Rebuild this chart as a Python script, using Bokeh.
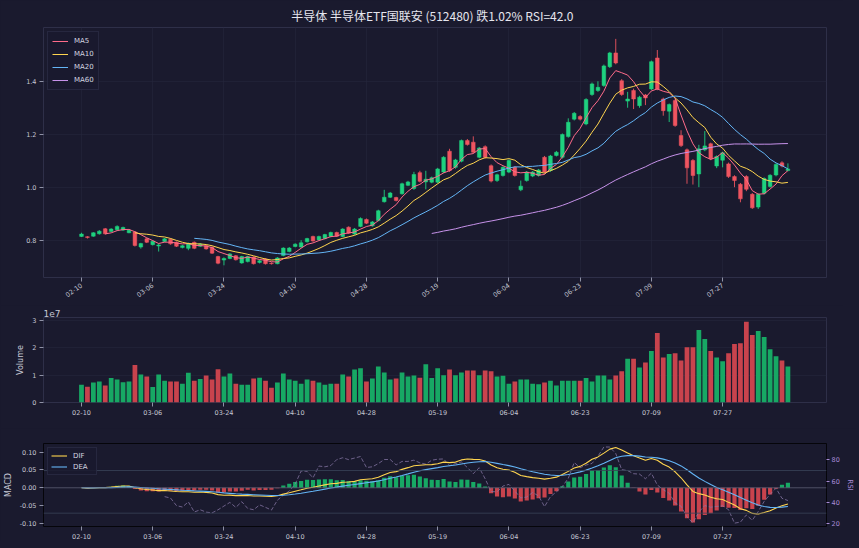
import numpy as np
import pandas as pd

from bokeh.embed import file_html
from bokeh.layouts import column
from bokeh.models import (ColumnDataSource, CustomJSTickFormatter, FixedTicker,
                          LinearAxis, Range1d, Span, Title)
from bokeh.plotting import figure
from bokeh.resources import INLINE

title_text = "半导体 半导体ETF国联安 (512480)  跌1.02%  RSI=42.0"

# x tick labels, one every 12 trading days
tick_labels = ["02-10", "03-06", "03-24", "04-10", "04-28",
               "05-19", "06-04", "06-23", "07-09", "07-27"]
tick_step = 12

# daily candles
opens = [0.814, 0.813, 0.815, 0.824, 0.843, 0.833, 0.839, 0.838, 0.828, 0.831,
         0.774, 0.805, 0.783, 0.778, 0.795, 0.803, 0.792, 0.772, 0.769, 0.792,
         0.777, 0.779, 0.773, 0.738, 0.725, 0.731, 0.741, 0.714, 0.719, 0.736,
         0.716, 0.729, 0.713, 0.711, 0.742, 0.757, 0.776, 0.774, 0.794, 0.814,
         0.801, 0.806, 0.814, 0.829, 0.814, 0.849, 0.823, 0.852, 0.878, 0.854,
         0.874, 0.945, 0.962, 0.961, 0.975, 1.007, 0.995, 1.055, 1.020, 1.019,
         1.019, 1.057, 1.136, 1.075, 1.098, 1.176, 1.170, 1.113, 1.153, 1.081,
         1.025, 1.044, 1.057, 1.075, 0.990, 1.025, 1.042, 1.044, 1.113, 1.063,
         1.120, 1.113, 1.191, 1.257, 1.267, 1.239, 1.350, 1.365, 1.384, 1.455,
         1.507, 1.402, 1.325, 1.365, 1.308, 1.348, 1.371, 1.488, 1.333, 1.287,
         1.327, 1.195, 1.141, 1.101, 1.050, 1.141, 1.164, 1.080, 1.102, 1.088,
         1.040, 1.011, 1.040, 0.973, 0.925, 0.977, 1.003, 1.046, 1.092, 1.063]
closes = [0.823, 0.810, 0.828, 0.834, 0.824, 0.842, 0.852, 0.848, 0.837, 0.780,
          0.787, 0.792, 0.796, 0.782, 0.805, 0.786, 0.777, 0.779, 0.788, 0.769,
          0.785, 0.767, 0.751, 0.713, 0.731, 0.748, 0.726, 0.738, 0.738, 0.711,
          0.722, 0.711, 0.711, 0.733, 0.770, 0.770, 0.785, 0.790, 0.806, 0.797,
          0.814, 0.821, 0.829, 0.815, 0.842, 0.827, 0.842, 0.882, 0.864, 0.869,
          0.911, 0.962, 0.978, 0.950, 1.013, 1.020, 1.048, 1.022, 1.030, 1.036,
          1.069, 1.113, 1.063, 1.103, 1.176, 1.161, 1.132, 1.148, 1.113, 1.023,
          1.047, 1.075, 1.101, 1.044, 1.004, 1.057, 1.057, 1.065, 1.057, 1.118,
          1.132, 1.199, 1.245, 1.279, 1.257, 1.331, 1.390, 1.377, 1.458, 1.507,
          1.469, 1.350, 1.333, 1.333, 1.340, 1.337, 1.474, 1.371, 1.289, 1.312,
          1.233, 1.157, 1.073, 1.044, 1.145, 1.156, 1.107, 1.116, 1.130, 1.040,
          1.025, 0.956, 0.992, 0.922, 0.973, 1.033, 1.045, 1.086, 1.080, 1.069]
highs = [0.828, 0.815, 0.830, 0.838, 0.846, 0.845, 0.856, 0.851, 0.840, 0.834,
         0.790, 0.808, 0.799, 0.786, 0.808, 0.806, 0.795, 0.782, 0.791, 0.795,
         0.789, 0.782, 0.776, 0.741, 0.735, 0.751, 0.744, 0.741, 0.741, 0.739,
         0.726, 0.732, 0.716, 0.736, 0.773, 0.774, 0.788, 0.800, 0.809, 0.817,
         0.817, 0.824, 0.832, 0.832, 0.845, 0.852, 0.846, 0.886, 0.882, 0.872,
         0.915, 0.990, 0.982, 0.964, 1.017, 1.024, 1.058, 1.062, 1.062, 1.040,
         1.073, 1.117, 1.145, 1.107, 1.180, 1.182, 1.192, 1.152, 1.158, 1.086,
         1.051, 1.079, 1.105, 1.079, 1.025, 1.061, 1.061, 1.069, 1.118, 1.122,
         1.137, 1.203, 1.260, 1.284, 1.272, 1.336, 1.395, 1.400, 1.463, 1.511,
         1.560, 1.408, 1.360, 1.372, 1.345, 1.352, 1.478, 1.518, 1.338, 1.316,
         1.332, 1.215, 1.146, 1.106, 1.160, 1.212, 1.168, 1.120, 1.134, 1.093,
         1.045, 1.016, 1.045, 0.978, 0.977, 1.037, 1.049, 1.090, 1.098, 1.090]
lows = [0.812, 0.806, 0.813, 0.821, 0.821, 0.830, 0.836, 0.835, 0.826, 0.776,
        0.768, 0.789, 0.780, 0.757, 0.792, 0.783, 0.774, 0.769, 0.762, 0.766,
        0.774, 0.764, 0.748, 0.709, 0.705, 0.728, 0.723, 0.711, 0.716, 0.708,
        0.712, 0.708, 0.708, 0.709, 0.739, 0.754, 0.773, 0.771, 0.791, 0.794,
        0.798, 0.803, 0.811, 0.812, 0.811, 0.824, 0.820, 0.849, 0.861, 0.851,
        0.871, 0.942, 0.959, 0.946, 0.972, 1.004, 0.990, 1.018, 0.992, 1.015,
        1.015, 1.053, 1.058, 1.070, 1.094, 1.157, 1.128, 1.109, 1.108, 1.018,
        1.020, 1.040, 1.053, 1.040, 0.985, 1.021, 1.038, 1.040, 1.052, 1.058,
        1.116, 1.108, 1.187, 1.252, 1.252, 1.234, 1.345, 1.360, 1.379, 1.450,
        1.464, 1.345, 1.300, 1.295, 1.300, 1.310, 1.366, 1.366, 1.270, 1.246,
        1.228, 1.152, 1.013, 1.010, 1.000, 1.136, 1.102, 1.072, 1.075, 1.035,
        1.000, 0.943, 0.985, 0.918, 0.918, 0.972, 0.998, 1.041, 1.075, 1.060]
# volume, in units of 1e7
volume = [0.65, 0.58, 0.73, 0.77, 0.62, 0.90, 0.84, 0.74, 0.77, 1.37,
          1.02, 0.95, 0.57, 1.02, 0.80, 0.77, 0.77, 0.69, 1.09, 0.80,
          0.86, 0.99, 0.84, 1.22, 0.95, 1.06, 0.69, 0.65, 0.65, 0.88,
          0.91, 0.80, 0.54, 0.73, 1.06, 0.84, 0.80, 0.69, 0.84, 0.80,
          0.73, 0.65, 0.69, 0.69, 1.02, 0.95, 1.21, 1.25, 0.77, 0.88,
          1.32, 1.10, 0.84, 0.88, 1.10, 0.95, 0.99, 0.91, 1.40, 0.90,
          1.25, 1.00, 1.21, 1.00, 1.10, 1.17, 1.17, 1.00, 1.17, 1.14,
          0.95, 0.98, 0.69, 0.77, 0.84, 0.84, 0.69, 0.67, 0.73, 0.80,
          0.62, 0.80, 0.80, 0.80, 0.80, 0.90, 0.77, 0.99, 0.99, 0.84,
          0.99, 1.14, 1.60, 1.60, 1.28, 1.46, 1.88, 2.54, 1.65, 1.77,
          1.80, 1.54, 2.02, 2.02, 2.65, 2.32, 1.88, 1.65, 1.51, 1.80,
          2.14, 2.17, 2.95, 2.47, 2.62, 2.40, 1.95, 1.69, 1.54, 1.32]

BG = "#1a1a2e"
TXT = "#c4c6d2"
GRID = "#25263d"
UP, DOWN = "#1fd17f", "#ef5560"
VUP, VDOWN = "#17a864", "#c8434d"
RSI_C = "#a98bd6"

# indicators derived from the closes
df = pd.DataFrame({"open": opens, "high": highs, "low": lows, "close": closes, "vol": volume})
df["x"] = np.arange(len(df))
up = df["close"] >= df["open"]
df["color"] = np.where(up, UP, DOWN)
df["vcolor"] = np.where(up, VUP, VDOWN)
df["top"] = df[["open", "close"]].max(axis=1)
df["bottom"] = df[["open", "close"]].min(axis=1)
for n in (5, 10, 20, 60):
    df[f"ma{n}"] = df["close"].rolling(n).mean()
ema12 = df["close"].ewm(span=12, adjust=False).mean()
ema26 = df["close"].ewm(span=26, adjust=False).mean()
df["dif"] = ema12 - ema26
df["dea"] = df["dif"].ewm(span=9, adjust=False).mean()
df["hist"] = 2 * (df["dif"] - df["dea"])
df["hcolor"] = np.where(df["hist"] >= 0, VUP, VDOWN)
delta = df["close"].diff()
gain = delta.clip(lower=0).rolling(14).mean()
loss = (-delta.clip(upper=0)).rolling(14).mean()
df["rsi"] = 100 - 100 / (1 + gain / loss)

src = ColumnDataSource(df)
xr = Range1d(-6.4, 125.5)
ticks = [i * tick_step for i in range(len(tick_labels))]
overrides = {t: lab for t, lab in zip(ticks, tick_labels)}


def base_fig(frame_h, top, bottom, y_range):
    p = figure(frame_width=783, frame_height=frame_h, x_range=xr, y_range=y_range,
               output_backend="svg", toolbar_location=None,
               min_border_left=35, min_border_right=25,
               min_border_top=top, min_border_bottom=bottom,
               background_fill_color=BG, border_fill_color=BG)
    p.outline_line_color = "#2e2f48"
    p.grid.grid_line_color = GRID
    p.grid.grid_line_width = 0.6
    for ax in p.axis:
        ax.axis_line_color = None
        ax.major_tick_line_color = "#8f92a6"
        ax.major_tick_out = 4
        ax.major_tick_in = 0
        ax.minor_tick_line_color = None
        ax.major_label_text_color = TXT
        ax.major_label_text_font = "DejaVu Sans"
        ax.major_label_text_font_size = "6.5px"
        ax.major_label_standoff = 3
        ax.axis_label_text_color = TXT
        ax.axis_label_text_font = "DejaVu Sans"
        ax.axis_label_text_font_size = "8px"
        ax.axis_label_text_font_style = "normal"
        ax.axis_label_standoff = 4
    p.xaxis.ticker = FixedTicker(ticks=ticks)
    p.xaxis.major_label_overrides = overrides
    return p


def style_legend(leg, row_h):
    leg.location = "top_left"
    leg.background_fill_color = BG
    leg.background_fill_alpha = 0.85
    leg.border_line_color = "#34354f"
    leg.label_text_color = "#d4d6e0"
    leg.label_text_font = "DejaVu Sans"
    leg.label_text_font_size = "7px"
    leg.glyph_width = 16
    leg.glyph_height = row_h
    leg.label_height = row_h
    leg.spacing = 3
    leg.padding = 4
    leg.margin = 4
    leg.label_standoff = 6


# price panel
p1 = base_fig(250, 25, 28, Range1d(0.659, 1.603))
p1.title.text = title_text
p1.title.align = "center"
p1.title.text_font = "Noto Sans CJK SC"
p1.title.text_font_size = "12px"
p1.title.text_font_style = "normal"
p1.title.text_color = "#e6e6ee"
p1.title.standoff = 8
p1.yaxis.ticker = FixedTicker(ticks=[0.8, 1.0, 1.2, 1.4])
p1.yaxis.formatter = CustomJSTickFormatter(code="return tick.toFixed(1)")
p1.xaxis.major_label_orientation = 0.62

p1.segment(x0="x", y0="low", x1="x", y1="high", color="color", line_width=0.9, source=src)
p1.vbar(x="x", top="top", bottom="bottom", width=0.62, fill_color="color",
        line_color="color", line_width=0.5, source=src)
ma_styles = [("ma5", "MA5", "#ff6b8a"), ("ma10", "MA10", "#ffd54f"),
             ("ma20", "MA20", "#64b5f6"), ("ma60", "MA60", "#c792ea")]
for col, lab, c in ma_styles:
    p1.line("x", col, source=src, line_color=c, line_width=1.0, legend_label=lab)
style_legend(p1.legend[0], 10)

# volume panel
p2 = base_fig(85, 12, 26, Range1d(0, 3.11))
p2.add_layout(Title(text="1e7", align="left", text_font="DejaVu Sans",
                    text_font_size="9px", text_font_style="normal",
                    text_color=TXT, standoff=1), "above")
p2.yaxis.ticker = FixedTicker(ticks=[0, 1, 2, 3])
p2.yaxis.axis_label = "Volume"
p2.xgrid.grid_line_color = None
p2.vbar(x="x", top="vol", bottom=0, width=0.8, fill_color="vcolor",
        line_color=None, source=src)

# MACD / RSI panel
p3 = base_fig(83, 15, 14, Range1d(-0.1087, 0.1244))
p3.outline_line_color = "#05050a"
p3.yaxis.ticker = FixedTicker(ticks=[-0.1, -0.05, 0.0, 0.05, 0.1])
p3.yaxis.formatter = CustomJSTickFormatter(code="return tick.toFixed(2)")
p3.yaxis.axis_label = "MACD"
p3.grid.grid_line_color = None
p3.extra_y_ranges = {"rsi": Range1d(17.5, 95.3)}
rsi_axis = LinearAxis(y_range_name="rsi", axis_label="RSI",
                      ticker=FixedTicker(ticks=[20, 40, 60, 80]))
rsi_axis.axis_line_color = None
rsi_axis.major_tick_line_color = RSI_C
rsi_axis.major_tick_out = 3
rsi_axis.major_tick_in = 0
rsi_axis.minor_tick_line_color = None
rsi_axis.major_label_text_color = RSI_C
rsi_axis.major_label_text_font = "DejaVu Sans"
rsi_axis.major_label_text_font_size = "6.5px"
rsi_axis.major_label_standoff = 2
rsi_axis.axis_label_text_color = RSI_C
rsi_axis.axis_label_text_font = "DejaVu Sans"
rsi_axis.axis_label_text_font_size = "7px"
rsi_axis.axis_label_text_font_style = "normal"
rsi_axis.axis_label_standoff = 3
p3.add_layout(rsi_axis, "right")

p3.add_layout(Span(location=0, dimension="width", line_color="#5c5e74", line_width=0.8))
for lvl in (70, 30):
    p3.add_layout(Span(location=lvl, dimension="width", y_range_name="rsi",
                       line_color="#3a4458", line_width=0.8))
p3.vbar(x="x", top="hist", bottom=0, width=0.7, fill_color="hcolor",
        line_color=None, source=src)
p3.line("x", "rsi", source=src, y_range_name="rsi", line_color="#8a7aa8",
        line_alpha=0.75, line_width=1.0, line_dash="4 2")
p3.line("x", "dif", source=src, line_color="#ffd54f", line_width=1.1, legend_label="DIF")
p3.line("x", "dea", source=src, line_color="#64b5f6", line_width=1.1, legend_label="DEA")
style_legend(p3.legend[0], 9)
p3.legend[0].spacing = 2
p3.legend[0].padding = 3

layout = column(p1, p2, p3, styles={"background-color": BG})
html = file_html(layout, INLINE, "512480")
css = "<style>html, body {background-color: %s; overflow: hidden;}</style>" % BG
html = html.replace("</head>", css + "</head>", 1)
open("out.html", "w").write(html)
